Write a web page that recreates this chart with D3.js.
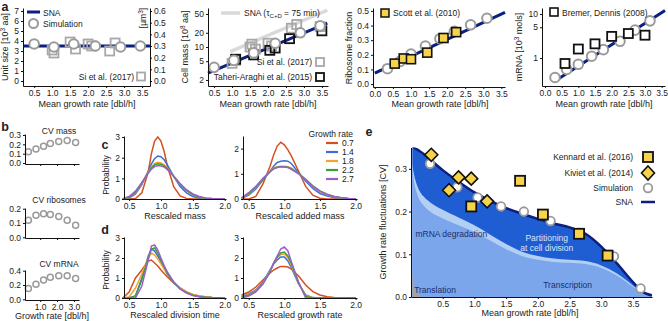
<!DOCTYPE html>
<html><head><meta charset="utf-8">
<script src="https://cdn.jsdelivr.net/npm/d3@7"></script>
<style>
body{margin:0;background:#fff}
text{font-family:"Liberation Sans",Arial,sans-serif;fill:#222}
</style></head>
<body><svg id="c" width="668" height="321"></svg>
<script>
// ---------- DATA ----------
// panel a1: unit size
const a1SimX=[0.5,1.05,1.6,2.2,2.9,3.45], a1SimY=[3.7,3.4,3.7,3.5,3.4,3.5];
const a1SiX=[1.0,1.05,1.5,1.65,2.0,2.1,2.6,2.75], a1SiY=[3.1,2.8,3.9,3.2,3.7,3.5,3.0,3.8];
const a1SnaX=[0.19,3.72], a1SnaY=[3.5,3.5];
// panel a2: cell mass
const a2SimX=[0.5,1.05,1.6,2.2,2.9,3.45], a2SimY=[3.7,5.2,7.5,12,20,28];
const a2SiX=[1.0,1.1,1.5,1.55,1.65,2.0,2.1,2.65,2.8,3.45], a2SiY=[4.5,5.2,10,11.5,9,12,10.5,25,30,27];
const a2TaX=[1.1,1.6,2.05,2.2,2.6,3.5], a2TaY=[5.5,6.8,8.5,9.5,15,22];
const a2SnaX=[0.33,3.65], a2SnaY=[2.8,32];
const a2TauX=[0.95,3.65], a2TauY=[8,60];
// panel a3: ribosome fraction
const a3SimX=[0.35,0.7,1.0,1.4,1.8,2.2,2.65,3.1], a3SimY=[0.105,0.155,0.205,0.26,0.31,0.36,0.405,0.45];
const a3ScX=[0.55,0.8,1.0,1.45,1.9,2.25], a3ScY=[0.14,0.175,0.17,0.215,0.315,0.355];
const a3SnaX=[0,3.6], a3SnaY=[0.075,0.49];
// panel a4: mRNA
const a4SimX=[0.3,0.65,1.0,1.4,1.75,2.25,2.7,3.15], a4SimY=[0.36,0.55,0.72,1.1,1.55,2.4,4.3,7];
const a4BrX=[0.6,1.0,1.5,2.0,2.5,3.0], a4BrY=[0.75,1.6,2.1,3.1,3.6,3.3];
const a4SnaX=[0.3,3.6], a4SnaY=[0.3,12];
// panel b
const bX=[0.3,0.75,1.2,1.6,2.1,2.6,3.1];
const bMass=[0.12,0.15,0.18,0.21,0.23,0.24,0.22];
const bRibo=[0.12,0.155,0.165,0.16,0.145,0.12,0.085];
const bMrna=[0.15,0.21,0.27,0.31,0.33,0.33,0.29];
// panels c,d
const rates=["0.7","1.4","1.8","2.2","2.7"];
const rateColors=["#d4511f","#3b6fd6","#f2a430","#3a9e3f","#9b5fc9"];
const dX=[0.4,0.5,0.6,0.7,0.8,0.85,0.9,0.95,1.0,1.05,1.1,1.2,1.3,1.4,1.5,1.6,1.7,1.8,1.9,2.0];
const cMass=[
 [0,0,0.02,0.3,1.3,2.2,2.8,3.0,2.8,2.3,1.6,0.6,0.15,0.03,0,0,0,0,0,0],
 [0,0.05,0.25,0.7,1.35,1.7,1.95,2.08,2.05,1.9,1.65,1.1,0.6,0.3,0.12,0.05,0.02,0.01,0,0],
 [0,0.07,0.3,0.75,1.3,1.55,1.72,1.78,1.75,1.65,1.5,1.1,0.7,0.4,0.2,0.08,0.03,0.01,0,0],
 [0,0.08,0.33,0.78,1.28,1.5,1.65,1.7,1.68,1.6,1.47,1.1,0.72,0.42,0.22,0.1,0.04,0.02,0.01,0],
 [0.01,0.12,0.38,0.8,1.25,1.45,1.57,1.62,1.6,1.55,1.42,1.1,0.75,0.45,0.25,0.12,0.05,0.02,0.01,0]];
const cAdded=[
 [0,0,0.1,0.6,1.3,1.75,2.1,2.25,2.15,1.95,1.7,1.1,0.5,0.15,0.03,0,0,0,0,0],
 [0.02,0.15,0.4,0.75,1.1,1.3,1.45,1.5,1.52,1.5,1.4,1.05,0.7,0.42,0.22,0.12,0.06,0.03,0.01,0],
 [0.03,0.2,0.45,0.8,1.1,1.22,1.28,1.3,1.3,1.28,1.22,1.02,0.76,0.5,0.3,0.17,0.09,0.04,0.02,0.01],
 [0.04,0.22,0.47,0.8,1.08,1.2,1.26,1.28,1.28,1.26,1.2,1.02,0.78,0.52,0.32,0.19,0.1,0.05,0.02,0.01],
 [0.05,0.25,0.5,0.82,1.08,1.2,1.25,1.28,1.27,1.25,1.18,1.0,0.75,0.5,0.3,0.18,0.1,0.05,0.02,0.01]];
const dDiv=[
 [0,0.3,1.0,1.4,1.85,1.9,1.75,1.6,1.4,1.22,1.05,0.75,0.5,0.3,0.18,0.1,0.06,0.03,0.01,0],
 [0,0,0.1,1.0,2.1,2.45,2.35,2.1,1.8,1.5,1.2,0.78,0.47,0.28,0.15,0.08,0.04,0.02,0.01,0],
 [0,0.05,0.5,1.2,2.0,2.25,2.15,1.95,1.7,1.45,1.2,0.8,0.5,0.3,0.18,0.1,0.05,0.02,0.01,0],
 [0,0,0.1,0.9,2.0,2.45,2.5,2.25,1.9,1.55,1.22,0.78,0.46,0.27,0.14,0.07,0.04,0.02,0.01,0],
 [0,0,0,0.6,1.9,2.6,2.65,2.4,2.0,1.62,1.3,0.8,0.45,0.25,0.12,0.06,0.03,0.01,0,0]];
const dGrowth=[
 [0.15,0.3,0.55,0.9,1.25,1.4,1.5,1.58,1.58,1.55,1.45,1.1,0.65,0.32,0.15,0.06,0.02,0,0,0],
 [0.1,0.2,0.4,0.8,1.4,1.7,1.9,2.05,2.05,1.85,1.5,0.7,0.15,0.02,0,0,0,0,0,0],
 [0.08,0.17,0.37,0.75,1.35,1.75,2.0,2.18,2.2,2.0,1.62,0.75,0.12,0.01,0,0,0,0,0,0],
 [0.06,0.14,0.33,0.72,1.32,1.75,2.05,2.25,2.3,2.1,1.7,0.75,0.08,0,0,0,0,0,0,0],
 [0,0.1,0.3,0.7,1.3,1.75,2.1,2.45,2.55,2.35,1.8,0.8,0,0,0,0,0,0,0,0]];
// panel e
const eX=[0.02,0.05,0.1,0.2,0.3,0.5,0.75,1.0,1.25,1.5,1.75,2.0,2.25,2.5,2.75,3.0,3.25,3.5,3.65,3.8];
const eTotal=[0.36,0.35,0.345,0.335,0.322,0.297,0.27,0.245,0.225,0.208,0.195,0.183,0.172,0.163,0.148,0.118,0.078,0.035,0.012,0.004];
const eMid=[0.31,0.285,0.26,0.235,0.222,0.204,0.186,0.168,0.146,0.124,0.106,0.096,0.09,0.087,0.084,0.074,0.055,0.027,0.01,0.003];
const eLow=[0.30,0.268,0.24,0.214,0.2,0.184,0.168,0.152,0.132,0.112,0.096,0.087,0.082,0.08,0.077,0.068,0.05,0.024,0.008,0.002];
const eTransl=[0.06,0.03,0.008,0,0,0,0,0,0,0,0,0,0,0,0,0,0,0,0,0];
const eKenX=[0.95,1.72,2.08,2.65,3.1], eKenY=[0.212,0.272,0.193,0.148,0.097];
const eKivX=[0.32,0.6,0.75,0.95,1.2], eKivY=[0.333,0.25,0.28,0.277,0.224];
const eSimX=[0.3,0.73,1.05,1.42,1.78,2.2,2.65,3.2,3.62], eSimY=[0.312,0.257,0.233,0.212,0.2,0.178,0.15,0.095,0.02];

// ---------- HELPERS ----------
const svg=d3.select("#c");
const NAVY="#0b1f7e", SIMC="#9a9a9a", YEL="#f6d34a";
const FS=8.5;
function styleAxis(g){
  g.selectAll("path.domain").attr("stroke","#111").attr("stroke-width",1);
  g.selectAll(".tick line").attr("stroke","#111");
  g.selectAll(".tick text").attr("font-size",FS).attr("fill","#222").attr("font-family","Liberation Sans, Arial, sans-serif");
}
function xAxis(x,y0,ticks,fmt){
  const g=svg.append("g").attr("transform",`translate(0,${y0})`)
    .call(d3.axisBottom(x).tickValues(ticks).tickFormat(fmt).tickSize(2).tickSizeOuter(0).tickPadding(1.5));
  styleAxis(g);return g;
}
function yAxis(y,x0,ticks,fmt,right){
  const ax=(right?d3.axisRight(y):d3.axisLeft(y)).tickValues(ticks).tickFormat(fmt).tickSize(2).tickSizeOuter(0).tickPadding(2);
  const g=svg.append("g").attr("transform",`translate(${x0},0)`).call(ax);
  styleAxis(g);return g;
}
function label(t,x,y,opt={}){
  const el=svg.append("text").attr("x",x).attr("y",y).attr("font-size",opt.fs||9)
   .attr("text-anchor",opt.anchor||"middle");
  if(opt.rot) el.attr("transform",`rotate(-90,${x},${y})`);
  if(opt.bold) el.attr("font-weight","bold");
  if(opt.fill) el.style("fill",opt.fill);
  if(typeof t==="string") el.text(t); else t(el);
  return el;
}
function circles(xs,ys,x,y,r,sw){
  svg.append("g").selectAll("circle").data(xs).join("circle")
   .attr("cx",(d)=>x(d)).attr("cy",(d,i)=>y(ys[i])).attr("r",r)
   .attr("fill","#fff").attr("stroke",SIMC).attr("stroke-width",sw||1.8);
}
function squares(xs,ys,x,y,s,stroke,fill,sw){
  svg.append("g").selectAll("rect").data(xs).join("rect")
   .attr("x",(d)=>x(d)-s/2).attr("y",(d,i)=>y(ys[i])-s/2).attr("width",s).attr("height",s)
   .attr("fill",fill).attr("stroke",stroke).attr("stroke-width",sw||1.8);
}
function diamonds(xs,ys,x,y,s){
  svg.append("g").selectAll("path").data(xs).join("path")
   .attr("d",(d,i)=>{const cx=x(d),cy=y(ys[i]);return `M${cx},${cy-s}L${cx+s},${cy}L${cx},${cy+s}L${cx-s},${cy}Z`;})
   .attr("fill",YEL).attr("stroke","#111").attr("stroke-width",1.6);
}
function line(xs,ys,x,y,color,w){
  const ln=d3.line().x(d=>x(d[0])).y(d=>y(d[1]));
  return svg.append("path").datum(xs.map((v,i)=>[v,ys[i]])).attr("d",ln)
   .attr("fill","none").attr("stroke",color).attr("stroke-width",w).attr("stroke-linecap","butt");
}
const fmt1=d3.format(".1f");

// panel letters
label("a",5,11,{fs:12.5,bold:true});
label("b",5,131,{fs:12.5,bold:true});
label("c",105,149,{fs:12.5,bold:true});
label("d",105,234,{fs:12.5,bold:true});
label("e",369,136,{fs:12.5,bold:true});

// ---------- a1 ----------
{
 const x=d3.scaleLinear().domain([0.19,3.72]).range([23,150]);
 const y=d3.scaleLinear().domain([-0.5,7.3]).range([86,8]);
 const y2=d3.scaleLinear().domain([-0.5*0.6/7,7.3*0.6/7]).range([86,8]);
 line(a1SnaX,a1SnaY,x,y,NAVY,3);
 squares(a1SiX,a1SiY,x,y,9,"#a8a8a8","none",1.8);
 circles(a1SimX,a1SimY,x,y,4.8,2);
 xAxis(x,86,[0.5,1,1.5,2,2.5,3,3.5],fmt1);
 yAxis(y,23,[0,1,2,3,4,5,6,7],d3.format("d"));
 yAxis(y2,150,[0,0.1,0.2,0.3,0.4,0.5,0.6],fmt1,true);
 label("Mean growth rate [dbl/h]",87,107);
 label(el=>{el.text("Unit size [10");el.append("tspan").attr("dy",-3).attr("font-size",6.5).text("3");el.append("tspan").attr("dy",3).text(" aa]");},8,47,{rot:true});
 label(el=>{el.text("[µm");el.append("tspan").attr("dy",-3).attr("font-size",6.5).text("3");el.append("tspan").attr("dy",3).text("]");},146,18,{rot:true,fs:8.5});
 svg.append("line").attr("x1",27).attr("x2",40).attr("y1",12).attr("y2",12).attr("stroke",NAVY).attr("stroke-width",3);
 label("SNA",43,15.5,{anchor:"start",fs:8.5});
 svg.append("circle").attr("cx",33.5).attr("cy",23.5).attr("r",4.5).attr("fill","#fff").attr("stroke",SIMC).attr("stroke-width",2);
 label("Simulation",43,27,{anchor:"start",fs:8.5});
 label("Si et al. (2017)",134,80,{anchor:"end",fs:8.5});
 svg.append("rect").attr("x",137).attr("y",72.5).attr("width",8).attr("height",8).attr("fill","none").attr("stroke","#a8a8a8").attr("stroke-width",1.8);
}
// ---------- a2 ----------
{
 const x=d3.scaleLinear().domain([0.33,3.67]).range([208,328]);
 const y=d3.scaleLog().domain([1.49,67]).range([86,8]);
 line(a2TauX,a2TauY,x,y,"#d9d9d9",3.5);
 line(a2SnaX,a2SnaY,x,y,NAVY,3);
 squares(a2SiX,a2SiY,x,y,9,"#a8a8a8","none",1.8);
 squares(a2TaX,a2TaY,x,y,9,"#111","none",1.8);
 circles(a2SimX,a2SimY,x,y,4.8,2);
 xAxis(x,86,[0.5,1,1.5,2,2.5,3,3.5],fmt1);
 yAxis(y,208,[2,5,10,20,50],d3.format("d"));
 label("Mean growth rate [dbl/h]",268,107);
 label(el=>{el.text("Cell mass [10");el.append("tspan").attr("dy",-3).attr("font-size",6.5).text("8");el.append("tspan").attr("dy",3).text(" aa]");},188,47,{rot:true});
 svg.append("line").attr("x1",221).attr("x2",240).attr("y1",13).attr("y2",13).attr("stroke","#d9d9d9").attr("stroke-width",3.5);
 label(el=>{el.text("SNA (τ");el.append("tspan").attr("dy",2).attr("font-size",6).text("C+D");el.append("tspan").attr("dy",-2).text(" = 75 min)");},244,16,{anchor:"start",fs:8.5});
 label("Si et al. (2017)",312,65,{anchor:"end",fs:8.5});
 svg.append("rect").attr("x",316).attr("y",58).attr("width",8).attr("height",8).attr("fill","none").attr("stroke","#a8a8a8").attr("stroke-width",1.8);
 label("Taheri-Araghi et al. (2015)",312,80,{anchor:"end",fs:8.5});
 svg.append("rect").attr("x",316).attr("y",73).attr("width",8).attr("height",8).attr("fill","none").attr("stroke","#111").attr("stroke-width",1.8);
}
// ---------- a3 ----------
{
 const x=d3.scaleLinear().domain([-0.05,3.6]).range([373,505]);
 const y=d3.scaleLinear().domain([-0.02,0.52]).range([87,8]);
 line(a3SnaX,a3SnaY,x,y,NAVY,3);
 circles(a3SimX,a3SimY,x,y,4.8,2);
 squares(a3ScX,a3ScY,x,y,9,"#111",YEL,1.6);
 xAxis(x,87,[0,0.5,1,1.5,2,2.5,3,3.5],fmt1);
 yAxis(y,373,[0,0.1,0.2,0.3,0.4,0.5],fmt1);
 label("Mean growth rate [dbl/h]",440,107);
 label("Ribosome fraction",352,48,{rot:true});
 svg.append("rect").attr("x",381).attr("y",9).attr("width",8).attr("height",8).attr("fill",YEL).attr("stroke","#111").attr("stroke-width",1.5);
 label("Scott et al. (2010)",393,16,{anchor:"start",fs:8.5});
}
// ---------- a4 ----------
{
 const x=d3.scaleLinear().domain([-0.09,3.6]).range([542,665]);
 const y=d3.scaleLog().domain([0.231,13.7]).range([86,8]);
 line(a4SnaX,a4SnaY,x,y,NAVY,3);
 circles(a4SimX,a4SimY,x,y,4.8,2);
 squares(a4BrX,a4BrY,x,y,9,"#111","#fff",1.8);
 xAxis(x,86,[0,0.5,1,1.5,2,2.5,3,3.5],fmt1);
 yAxis(y,542,[1,5,10],d3.format("d"));
 label("Mean growth rate [dbl/h]",604,107);
 label(el=>{el.text("mRNA [10");el.append("tspan").attr("dy",-3).attr("font-size",6.5).text("3");el.append("tspan").attr("dy",3).text(" mols]");},522,47,{rot:true});
 svg.append("rect").attr("x",550).attr("y",8).attr("width",8).attr("height",8).attr("fill","#fff").attr("stroke","#111").attr("stroke-width",1.6);
 label("Bremer, Dennis (2008)",562,16,{anchor:"start",fs:8.5});
}
// ---------- b ----------
{
 const x=d3.scaleLinear().domain([0.1,3.3]).range([25,79]);
 const defs=[
  {vals:bMass,title:"CV mass",top:134,bot:164,dom:[-0.01,0.31],ticks:[0,0.1,0.2,0.3],ty:134},
  {vals:bRibo,title:"CV ribosomes",top:208,bot:238,dom:[-0.005,0.205],ticks:[0,0.1,0.2],ty:203},
  {vals:bMrna,title:"CV mRNA",top:270,bot:300,dom:[-0.01,0.41],ticks:[0,0.2,0.4],ty:267}];
 defs.forEach((p,k)=>{
  const y=d3.scaleLinear().domain(p.dom).range([p.bot,p.top]);
  circles(bX,p.vals,x,y,3,1.5);
  xAxis(x,p.bot,[1,2,3],k===2?fmt1:(()=>""));
  yAxis(y,25,p.ticks,fmt1);
  label(p.title,59,p.ty,{fs:8.5});
 });
 label("Growth rate [dbl/h]",52,319);
}
// ---------- c,d ----------
function distPanel(data,x0,x1,ytop,ybot,ydom,yticks,xl){
 const x=d3.scaleLinear().domain([0.42,2.02]).range([x0,x1]);
 const y=d3.scaleLinear().domain(ydom).range([ybot,ytop]);
 data.forEach((s,k)=>line(dX,s,x,y,rateColors[k],1.5));
 xAxis(x,ybot,[0.5,1,1.5,2],fmt1);
 yAxis(y,x0,yticks,d3.format("d"));
 label(xl,(x0+x1)/2,ybot+20);
}
distPanel(cMass,124,226,136,199,[0,3.05],[0,1,2,3],"Rescaled mass");
distPanel(cAdded,243,357,136,199,[0,2.5],[0,1,2],"Rescaled added mass");
distPanel(dDiv,124,226,237,298,[0,3.05],[0,1,2,3],"Rescaled division time");
distPanel(dGrowth,243,357,237,298,[0,3.05],[0,1,2,3],"Rescaled growth rate");
label("Probability",109,175,{rot:true,fs:8.5});
label("Probability",109,270,{rot:true,fs:8.5});
{
 label("Growth rate",353,137,{anchor:"end",fs:8.5});
 rates.forEach((r,k)=>{
  const yy=146+k*9;
  svg.append("line").attr("x1",326).attr("x2",338).attr("y1",yy-3).attr("y2",yy-3).attr("stroke",rateColors[k]).attr("stroke-width",2.2);
  label(r,342,yy,{anchor:"start",fs:8.5});
 });
}
// ---------- e ----------
{
 const x=d3.scaleLinear().domain([0,3.8]).range([411,652]);
 const y=d3.scaleLinear().domain([0,0.35]).range([297,147.5]);
 svg.append("defs").append("clipPath").attr("id","eclip").append("rect").attr("x",411).attr("y",147.5).attr("width",241).attr("height",149.5);
 const g=svg.append("g").attr("clip-path","url(#eclip)");
 const area=(top)=>d3.area().x((d,i)=>x(eX[i])).y0(y(0)).y1((d,i)=>y(top[i])).curve(d3.curveMonotoneX)(eX);
 g.append("path").attr("d",area(eTotal)).attr("fill","#1f5dd3");
 g.append("path").attr("d",area(eMid)).attr("fill","#b3cff4");
 g.append("path").attr("d",area(eLow)).attr("fill","#7ca6ec");
 g.append("path").attr("d",area(eTransl)).attr("fill","#a3a3a3");
 g.append("path").attr("d",d3.line().x((d,i)=>x(eX[i])).y((d,i)=>y(eTotal[i])).curve(d3.curveMonotoneX)(eX))
   .attr("fill","none").attr("stroke",NAVY).attr("stroke-width",2.5);
 label("mRNA degradation",x(0.07),y(0.148)+3,{anchor:"start",fs:8.5,fill:"#1a2f6e"});
 label("Partitioning",x(2.14),y(0.138)+3,{fs:8.5,fill:"#d9e6fb"});
 label("at cell division",x(2.14),y(0.114)+3,{fs:8.5,fill:"#d9e6fb"});
 label("Transcription",x(2.47),y(0.029)+3,{fs:8.5,fill:"#1a2f6e"});
 label("Translation",x(0.05),y(0.017)+3,{anchor:"start",fs:8.5,fill:"#1a2f6e"});
 circles(eSimX,eSimY,x,y,4.3,1.8);
 squares(eKenX,eKenY,x,y,10,"#111",YEL,1.8);
 diamonds(eKivX,eKivY,x,y,6.5);
 xAxis(x,297,[0.5,1,1.5,2,2.5,3,3.5],fmt1);
 yAxis(y,411,[0,0.1,0.2,0.3],fmt1);
 label("Mean growth rate [dbl/h]",530,316);
 label("Growth rate fluctuations [CV]",386,222,{rot:true});
 const lx=633, sx=648;
 label("Kennard et al. (2016)",lx,160,{anchor:"end",fs:8.5});
 svg.append("rect").attr("x",sx-5).attr("y",152).attr("width",10).attr("height",10).attr("fill",YEL).attr("stroke","#111").attr("stroke-width",1.8);
 label("Kiviet et al. (2014)",lx,176,{anchor:"end",fs:8.5});
 svg.append("path").attr("d",`M${sx},${166}L${sx+6.5},${173}L${sx},${180}L${sx-6.5},${173}Z`).attr("fill",YEL).attr("stroke","#111").attr("stroke-width",1.6);
 label("Simulation",lx,191,{anchor:"end",fs:8.5});
 svg.append("circle").attr("cx",sx).attr("cy",188).attr("r",4.3).attr("fill","#fff").attr("stroke",SIMC).attr("stroke-width",1.8);
 label("SNA",lx,205,{anchor:"end",fs:8.5});
 svg.append("line").attr("x1",sx-7).attr("x2",sx+7).attr("y1",202).attr("y2",202).attr("stroke",NAVY).attr("stroke-width",2.5);
}
</script></body></html>
